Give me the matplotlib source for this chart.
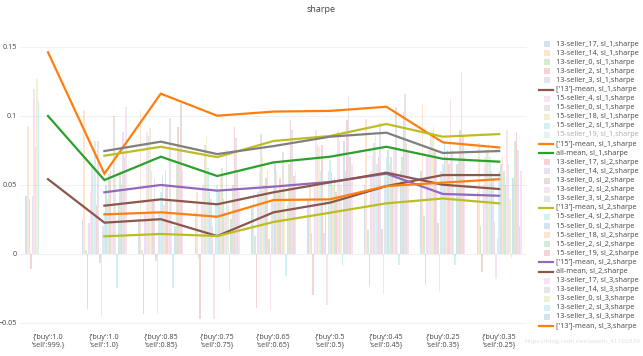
import matplotlib
matplotlib.use('Agg')
import matplotlib.pyplot as plt
from matplotlib.patches import Rectangle

plt.rcParams['font.family'] = ['Open Sans', 'DejaVu Sans']

categories = ["{'buy':1.0\n'sell':999.}", "{'buy':1.0\n'sell':1.0}", "{'buy':0.85\n'sell':0.85}",
              "{'buy':0.75\n'sell':0.75}", "{'buy':0.65\n'sell':0.65}", "{'buy':0.5\n'sell':0.5}",
              "{'buy':0.45\n'sell':0.45}", "{'buy':0.25\n'sell':0.35}", "{'buy':0.35\n'sell':0.25}"]
y_ticks = [-0.05, 0, 0.05, 0.1, 0.15]
y_tick_labels = ['−0.05', '0', '0.05', '0.1', '0.15']

# ---- sl_1 bars ----
s13_17_sl1 = [0.042, 0.025, 0.025, 0.030, 0.035, 0.040, 0.050, 0.060, 0.045]
s13_14_sl1 = [0.0925, 0.104, 0.1036, 0.045, 0.044, 0.050, 0.0976, 0.1085, 0.080]
s13_0_sl1 = [0.0394, 0.003, 0.003, -0.003, 0.013, 0.015, 0.017, 0.027, 0.020]
s13_2_sl1 = [-0.0113, -0.040, -0.044, -0.047, -0.039, -0.030, -0.0234, -0.0227, -0.013]
s13_3_sl1 = [0.042, 0.022, 0.030, 0.035, 0.045, 0.050, 0.060, 0.070, 0.050]
s15_4_sl1 = [0.1196, 0.045, 0.088, 0.050, 0.060, 0.090, 0.070, 0.075, 0.070]
s15_0_sl1 = [0.0775, 0.066, 0.085, 0.079, 0.087, 0.079, 0.080, 0.085, 0.075]
s15_18_sl1 = [0.1264, 0.062, 0.091, 0.085, 0.070, 0.077, 0.085, 0.090, 0.080]
s15_2_sl1 = [0.1107, 0.082, 0.060, 0.062, 0.050, 0.060, 0.065, 0.092, 0.070]
s15_19_sl1 = [None] * 9  # hidden (legend only)

# ---- sl_2 bars ----
s13_17_sl2 = [None, 0.035, 0.040, 0.045, 0.055, 0.079, 0.070, 0.075, 0.060]
s13_14_sl2 = [None, 0.082, 0.055, 0.040, 0.060, 0.015, 0.0947, 0.070, 0.055]
s13_0_sl2 = [None, -0.007, -0.005, 0.020, 0.011, 0.040, 0.0177, 0.022, 0.023]
s13_2_sl2 = [None, -0.046, -0.044, -0.047, -0.041, -0.037, -0.029, -0.0275, -0.0183]
s13_3_sl2 = [None, 0.020, 0.030, 0.035, 0.040, 0.060, 0.060, 0.060, 0.011]
s15_4_sl2 = [None, 0.030, 0.045, 0.050, 0.050, 0.068, 0.070, 0.065, 0.060]
s15_0_sl2 = [None, 0.050, 0.057, 0.045, 0.0655, 0.059, 0.075, 0.080, 0.065]
s15_18_sl2 = [None, 0.040, 0.035, 0.055, 0.060, 0.050, 0.065, 0.070, 0.070]
s15_2_sl2 = [None, 0.058, 0.061, 0.062, 0.045, 0.055, 0.070, 0.075, 0.060]
s15_19_sl2 = [None, 0.060, 0.050, 0.040, 0.055, 0.045, 0.060, 0.065, 0.050]

# ---- sl_3 bars ----
s13_17_sl3 = [None, 0.028, 0.030, 0.030, 0.045, 0.089, 0.075, 0.112, 0.090]
s13_14_sl3 = [None, 0.0998, 0.0986, 0.075, 0.074, 0.082, 0.1065, 0.075, 0.065]
s13_0_sl3 = [None, 0.055, 0.040, 0.035, 0.050, 0.050, 0.050, 0.055, 0.040]
s13_2_sl3 = [None, -0.025, -0.025, -0.027, -0.016, -0.009, -0.0082, -0.008, -0.003]
s13_3_sl3 = [None, 0.035, 0.020, 0.025, 0.035, 0.082, 0.060, 0.065, 0.055]
s15_4_sl3 = [None, 0.060, 0.065, 0.050, 0.065, 0.060, 0.070, 0.070, 0.082]
s15_0_sl3 = [None, 0.050, 0.092, 0.092, 0.097, 0.097, 0.103, 0.090, 0.088]
s15_18_sl3 = [None, 0.088, 0.075, 0.084, 0.090, 0.114, 0.1155, 0.132, 0.075]
s15_2_sl3 = [None, 0.070, 0.109, 0.060, 0.056, 0.070, 0.080, 0.085, 0.020]
s15_19_sl3 = [None, 0.106, 0.060, 0.045, 0.060, 0.065, 0.075, 0.070, 0.060]

# ---- mean lines ----
mean13_sl1 = [0.054, 0.0225, 0.025, 0.0128, 0.030, 0.037, 0.049, 0.057, 0.057]
mean15_sl1 = [0.146, 0.058, 0.116, 0.100, 0.103, 0.1035, 0.1065, 0.0807, 0.077]
meanall_sl1 = [0.0998, 0.0534, 0.0703, 0.0563, 0.0662, 0.0703, 0.0775, 0.0688, 0.0667]
mean13_sl2 = [None, 0.071, 0.0775, 0.070, 0.0817, 0.0853, 0.094, 0.0848, 0.0867]
mean15_sl2 = [None, 0.0445, 0.0498, 0.0457, 0.0486, 0.052, 0.058, 0.0433, 0.042]
meanall_sl2 = [None, 0.0348, 0.0394, 0.0358, 0.0445, 0.0517, 0.0587, 0.050, 0.0469]
mean13_sl3 = [None, 0.0285, 0.030, 0.0268, 0.0389, 0.0394, 0.049, 0.0515, 0.054]
mean15_sl3 = [None, 0.0744, 0.0812, 0.0722, 0.078, 0.0848, 0.0877, 0.073, 0.0744]
meanall_sl3 = [None, 0.0126, 0.0143, 0.0128, 0.023, 0.0297, 0.0365, 0.040, 0.0365]

traces = [
    ('13-seller_17, sl_1,sharpe', 'bar', s13_17_sl1),
    ('13-seller_14, sl_1,sharpe', 'bar', s13_14_sl1),
    ('13-seller_0, sl_1,sharpe', 'bar', s13_0_sl1),
    ('13-seller_2, sl_1,sharpe', 'bar', s13_2_sl1),
    ('13-seller_3, sl_1,sharpe', 'bar', s13_3_sl1),
    ("['13']-mean, sl_1,sharpe", 'line', mean13_sl1),
    ('15-seller_4, sl_1,sharpe', 'bar', s15_4_sl1),
    ('15-seller_0, sl_1,sharpe', 'bar', s15_0_sl1),
    ('15-seller_18, sl_1,sharpe', 'bar', s15_18_sl1),
    ('15-seller_2, sl_1,sharpe', 'bar', s15_2_sl1),
    ('15-seller_19, sl_1,sharpe', 'hidden', s15_19_sl1),
    ("['15']-mean, sl_1,sharpe", 'line', mean15_sl1),
    ('all-mean, sl_1,sharpe', 'line', meanall_sl1),
    ('13-seller_17, sl_2,sharpe', 'bar', s13_17_sl2),
    ('13-seller_14, sl_2,sharpe', 'bar', s13_14_sl2),
    ('13-seller_0, sl_2,sharpe', 'bar', s13_0_sl2),
    ('13-seller_2, sl_2,sharpe', 'bar', s13_2_sl2),
    ('13-seller_3, sl_2,sharpe', 'bar', s13_3_sl2),
    ("['13']-mean, sl_2,sharpe", 'line', mean13_sl2),
    ('15-seller_4, sl_2,sharpe', 'bar', s15_4_sl2),
    ('15-seller_0, sl_2,sharpe', 'bar', s15_0_sl2),
    ('15-seller_18, sl_2,sharpe', 'bar', s15_18_sl2),
    ('15-seller_2, sl_2,sharpe', 'bar', s15_2_sl2),
    ('15-seller_19, sl_2,sharpe', 'bar', s15_19_sl2),
    ("['15']-mean, sl_2,sharpe", 'line', mean15_sl2),
    ('all-mean, sl_2,sharpe', 'line', meanall_sl2),
    ('13-seller_17, sl_3,sharpe', 'bar', s13_17_sl3),
    ('13-seller_14, sl_3,sharpe', 'bar', s13_14_sl3),
    ('13-seller_0, sl_3,sharpe', 'bar', s13_0_sl3),
    ('13-seller_2, sl_3,sharpe', 'bar', s13_2_sl3),
    ('13-seller_3, sl_3,sharpe', 'bar', s13_3_sl3),
    ("['13']-mean, sl_3,sharpe", 'line', mean13_sl3),
    ('15-seller_4, sl_3,sharpe', 'bar', s15_4_sl3),
    ('15-seller_0, sl_3,sharpe', 'bar', s15_0_sl3),
    ('15-seller_18, sl_3,sharpe', 'bar', s15_18_sl3),
    ('15-seller_2, sl_3,sharpe', 'bar', s15_2_sl3),
    ('15-seller_19, sl_3,sharpe', 'bar', s15_19_sl3),
    ("['15']-mean, sl_3,sharpe", 'line', mean15_sl3),
    ('all-mean, sl_3,sharpe', 'line', meanall_sl3),
]

PAL = ['#1f77b4', '#ff7f0e', '#2ca02c', '#d62728', '#9467bd',
       '#8c564b', '#e377c2', '#7f7f7f', '#bcbd22', '#17becf']
BAR_ALPHA = 0.2
TXT = '#444444'

W, H = 643, 356
fig = plt.figure(figsize=(W / 100, H / 100), dpi=100)
ax_l, ax_r, ax_t, ax_b = 19.8, 527.4, 35.7, 330.0
ax = fig.add_axes([ax_l / W, 1 - ax_b / H, (ax_r - ax_l) / W, (ax_b - ax_t) / H])

n_bars = sum(1 for t in traces if t[1] == 'bar')
group_w = 0.8
slot_w = group_w / n_bars
slot = 0
for i, (name, kind, vals) in enumerate(traces):
    c = PAL[i % 10]
    if kind == 'bar':
        xs, hs = [], []
        for k, v in enumerate(vals):
            if v is None:
                continue
            xs.append(k - group_w / 2 + slot_w * (slot + 0.5))
            hs.append(v)
        ax.bar(xs, hs, width=slot_w, color=c, alpha=BAR_ALPHA, linewidth=0, zorder=2)
        slot += 1
    elif kind == 'line':
        xs = [k for k, v in enumerate(vals) if v is not None]
        ys = [v for v in vals if v is not None]
        ax.plot(xs, ys, color=c, lw=1.6, zorder=3, solid_joinstyle='miter')

ax.set_xlim(-0.5, len(categories) - 0.5)
ax.set_ylim(-0.0553, 0.158)
ax.set_yticks(y_ticks)
ax.set_yticklabels(y_tick_labels)
ax.set_xticks(range(len(categories)))
ax.set_xticklabels(categories, linespacing=1.1)
ax.tick_params(axis='both', length=0, labelsize=5.2, colors=TXT, pad=3)
ax.tick_params(axis='y', pad=2)
for sp in ax.spines.values():
    sp.set_visible(False)
ax.grid(axis='y', color='#eef1f5', lw=0.8, zorder=0)
ax.set_axisbelow(True)

# overlay for title, legend, watermark (pixel coordinates)
ov = fig.add_axes([0, 0, 1, 1])
ov.set_xlim(0, W)
ov.set_ylim(H, 0)
ov.axis('off')
ov.patch.set_alpha(0)

ov.text(321, 10, 'sharpe', ha='center', va='center', fontsize=6.5, color=TXT)

row0, dy = 44.0, 9.1
for r, (name, kind, vals) in enumerate(traces[:32]):
    y = row0 + r * dy
    c = PAL[r % 10]
    talpha = 1.0
    if kind == 'line':
        ov.plot([539, 553], [y, y], color=c, lw=1.6)
    else:
        a = BAR_ALPHA if kind == 'bar' else BAR_ALPHA * 0.5
        ov.add_patch(Rectangle((543.5, y - 3), 6, 6, facecolor=c, alpha=a, lw=0))
        if kind == 'hidden':
            talpha = 0.45
    ov.text(556, y, name, ha='left', va='center', fontsize=5.2, color=TXT, alpha=talpha)

ov.text(640, 342, 'https://blog.csdn.net/weixin_41192839', ha='right', va='center',
        fontsize=4.6, color='#d0d0d0', alpha=0.7)

fig.savefig('out.png', dpi=100)
